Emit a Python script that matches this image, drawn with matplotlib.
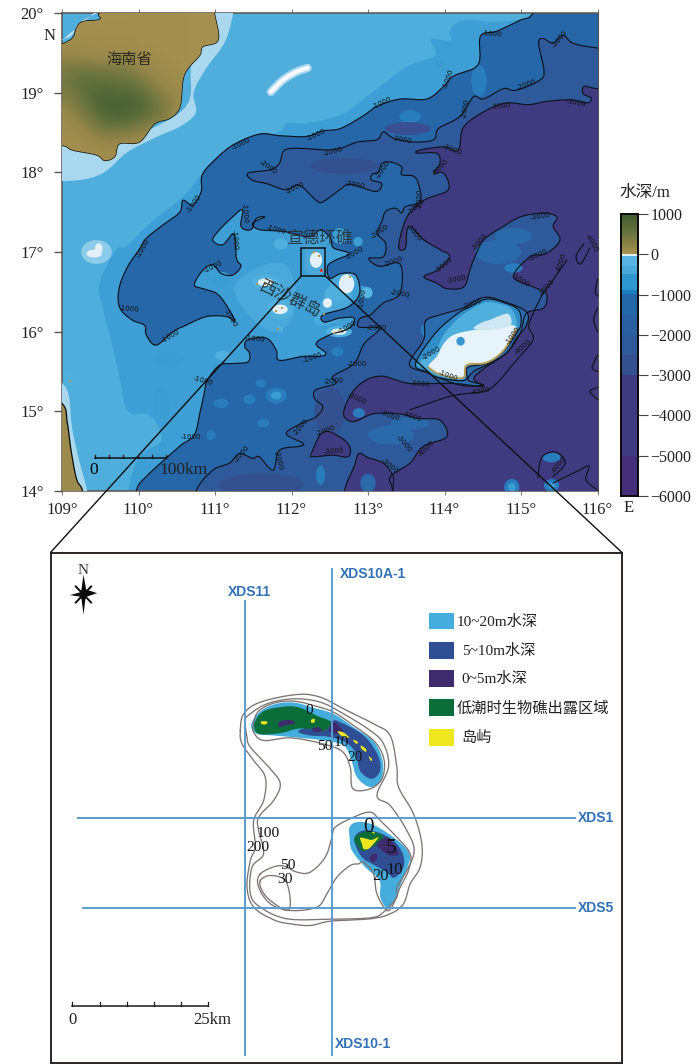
import numpy as np
import matplotlib
matplotlib.use('Agg')
import matplotlib.pyplot as plt
from matplotlib.patches import Polygon, Ellipse, Rectangle, ConnectionPatch
from matplotlib.colors import LinearSegmentedColormap, ListedColormap, BoundaryNorm

plt.rcParams['font.family'] = ['Liberation Serif', 'Noto Sans CJK SC', 'DejaVu Sans']
plt.rcParams['axes.unicode_minus'] = True

W, H = 700, 1064

# ---------------- depth polygons of the upper map (lon, lat) ----------------
SHELF_BAND = [(115.2,20.5),(115.14,20),(114.72,19.89),(114.25,19.91),(114.07,19.78),(114.08,19.65),(113.82,19.67),(113.88,19.47),
 (113.53,19.34),(113.2,19.11),(112.97,18.94),(112.64,18.72),(112.2,18.62),(111.93,18.62),(111.84,18.51),(111.32,18.38),
 (110.97,18.15),(110.8,17.95),(110.58,17.69),(110.15,17.36),(109.84,17.07),(109.71,17.03),(109.49,16.61),(109.54,16.27),
 (109.64,15.9),(109.75,15.44),(109.86,15.0),(110.15,14.95),(110.3,14.64),(110.01,14.43),(109.86,14),(109.8,13.5),(117,13.2),(117,20.8)]

DEEP_1000 = [(109.9,13.5),(109.97,14),(110.1,14.18),(110.36,14.41),(110.56,14.58),(110.73,14.7),(110.8,14.97),(110.86,15.23),(110.9,15.39),
 (111.06,15.58),(111.23,15.6),(111.43,15.62),(111.45,15.73),(111.39,15.81),(111.43,15.9),(111.67,15.92),(111.8,15.77),
 (111.84,15.64),(112.15,15.69),(112.37,15.69),(112.45,15.73),(112.32,15.85),(112.5,15.96),(112.75,16.04),(112.82,16.17),
 (112.63,16.17),(112.43,16.12),(112.41,16.21),(112.74,16.31),(112.89,16.48),(112.84,16.71),(112.65,16.73),(112.5,16.67),
 (112.47,16.82),(112.58,16.9),(112.76,16.98),(112.55,17.05),(112.52,17.15),(112.47,17.22),(112.38,17.28),(112.27,17.2),
 (112.15,17.2),(111.89,17.26),(111.58,17.28),(111.49,17.36),(111.65,17.44),(111.54,17.42),(111.47,17.28),(111.34,17.32),
 (111.36,17.53),(111.23,17.44),(111.06,17.28),(110.97,17.15),(111.1,17.09),(111.25,17.23),(111.28,16.92),(111.34,16.82),
 (111.23,16.71),(111.08,16.73),(110.97,16.84),(110.84,16.77),(110.73,16.59),(110.84,16.54),(111.02,16.48),(111.15,16.33),
 (111.26,16.13),(111.15,16.19),(110.89,16.19),(110.62,16.08),(110.45,16.0),(110.23,15.83),(110.1,15.96),(110.08,16.08),
 (109.91,16.15),(109.75,16.31),(109.75,16.56),(109.86,16.82),(110.01,17.03),(110.1,17.17),(110.32,17.34),(110.54,17.5),
 (110.58,17.65),(110.71,17.59),(110.82,17.76),(110.83,17.96),(110.97,18.13),(111.23,18.34),(111.58,18.48),(111.84,18.46),
 (112.19,18.45),(112.41,18.52),(112.64,18.55),(112.94,18.71),(113.12,18.83),(113.42,18.92),(113.77,18.92),(113.99,19.08),
 (114.12,19.21),(114.44,19.35),(114.47,19.71),(114.68,19.77),(114.99,19.91),(115.16,20.0),(115.4,20.5),(117,20.8),(117,13.2)]

DEEP_2000 = [(116.6,19.5),(116,19.56),(115.68,19.62),(115.55,19.72),(115.42,19.62),(115.29,19.68),(115.23,19.62),(115.3,19.28),(115.25,19.16),
 (114.94,19.03),(114.77,19.05),(114.51,18.92),(114.38,18.95),(114.2,18.7),(113.92,18.55),(113.86,18.41),(113.6,18.38),
 (113.33,18.43),(113.2,18.51),(113.12,18.41),(112.86,18.38),(112.64,18.3),(112.45,18.28),(112.15,18.3),(111.91,18.28),
 (111.84,18.11),(111.71,18.03),(111.43,17.99),(111.49,17.9),(111.67,17.86),(111.93,17.78),(112.1,17.84),(112.32,17.65),
 (112.41,17.63),(112.63,17.78),(112.77,17.85),(113.1,17.76),(113.18,17.86),(113.05,17.9),(113.05,17.97),(113.14,18.01),
 (113.18,18.11),(113.29,18.13),(113.44,18.07),(113.44,17.97),(113.6,17.95),(113.67,17.82),(113.68,17.63),(113.49,17.57),
 (113.44,17.49),(113.36,17.55),(113.23,17.51),(113.18,17.38),(113.12,17.23),(113.23,17.11),(113.2,16.94),(113.01,16.92),
 (113.15,16.82),(113.42,16.85),(113.42,16.48),(113.2,16.36),(113.03,16.21),(112.9,16.17),(112.88,16.06),(113.15,16.04),
 (112.95,15.85),(112.82,15.6),(112.54,15.44),(112.58,15.35),(112.32,15.27),(112.3,15.16),(112.41,15.06),(112.32,14.93),
 (112.13,14.85),(111.93,14.72),(112.15,14.6),(112.1,14.56),(111.84,14.51),(111.76,14.26),(111.58,14.43),(111.49,14.41),
 (111.32,14.47),(111.19,14.35),(110.97,14.26),(110.75,14),(110.6,13.5),(117,13.2),(117,19.6)]

DEEP_3000_A = [(116.6,19.0),(116,19.05),(115.83,19.08),(115.81,18.99),(115.92,18.93),(115.86,18.87),(115.64,18.91),(115.33,18.89),(115.1,18.85),
 (114.81,18.87),(114.55,18.78),(114.25,18.57),(114.18,18.28),(113.99,18.32),(113.68,18.28),(113.64,18.24),(113.9,18.24),
 (113.94,18.11),(113.86,17.99),(113.99,17.99),(114.05,17.78),(113.73,17.65),(113.51,17.44),(113.4,17.07),(113.49,17.05),
 (113.53,17.32),(113.73,17.15),(113.94,17.03),(114.07,16.94),(113.9,16.77),(113.73,16.69),(113.9,16.61),(114.03,16.54),
 (114.25,16.56),(114.33,16.77),(114.38,16.9),(114.51,17.15),(114.77,17.32),(114.99,17.44),(115.29,17.49),(115.47,17.44),
 (115.42,17.32),(115.51,17.15),(115.33,16.98),(115.12,16.94),(114.9,16.69),(115.16,16.56),(115.33,16.48),(115.3,16.3),
 (115.07,16.23),(114.99,15.98),(114.81,15.73),(114.55,15.56),(114.38,15.41),(114.51,15.31),(114.12,15.35),(113.55,15.35),
 (113.2,15.44),(112.97,15.39),(112.79,15.23),(112.68,14.97),(112.81,14.87),(113.07,14.97),(113.4,14.97),(113.66,14.91),
 (113.94,14.89),(114.03,14.68),(113.72,14.56),(113.55,14.35),(113.29,14.18),(113.32,14),(113.3,13.5),(117,13.2),(117,19.0)]
DEEP_3000_B = [(112.26,14.47),(112.41,14.74),(112.63,14.68),(112.76,14.56),(112.74,14.43),(112.54,14.45),(112.28,14.43)]
DEEP_3000_C = [(112.6,13.5),(112.69,14),(112.82,14.31),(112.88,14.47),(113.0,14.42),(113.2,14.35),(113.33,14.18),(113.33,14),(113.4,13.5)]

LINE_4000 = [(113.55,15.02),(113.73,15.08),(114.12,15.2),(114.51,15.25),(114.68,15.35),(114.94,15.64),(115.16,15.9),(115.1,16.06),
 (115.16,16.23),(115.29,16.48),(115.42,16.65),(115.6,16.9)]
LINE_EXTRA = [[(115.22,14.17),(115.27,14.42),(115.45,14.49),(115.58,14.35),(115.42,14.18)],
 [(115.42,14.1),(115.76,14.26),(115.89,14.31),(115.85,14.14),(116,14.01)],
 [(116,16.66),(115.97,16.5),(116,16.45)],[(116,16.3),(115.95,16.15),(116,16.0)],
 [(116,15.7),(115.93,15.55),(116,15.5)],[(116,15.3),(115.9,15.25),(116,15.15)],
 [(115.82,17.1),(115.72,16.95),(115.78,16.85),(115.9,17.05)]]

BANK_RING_2000 = [(113.54,15.59),(113.73,15.9),(113.75,16.13),(113.94,16.21),(114.25,16.3),(114.51,16.43),(114.77,16.38),(115.07,16.25),
 (115.07,16.08),(114.94,15.92),(114.81,15.73),(114.55,15.58),(114.38,15.5),(114.31,15.39),(114.51,15.33),(114.2,15.33),(113.79,15.48)]
BANK_RING_1000 = [(113.62,15.6),(113.88,15.98),(114.16,16.22),(114.33,16.31),(114.55,16.41),(114.79,16.36),(114.97,16.27),(115.0,16.1),
 (114.94,15.98),(114.77,15.75),(114.55,15.6),(114.3,15.55),(114.27,15.39),(113.94,15.42),(113.75,15.5)]
BANK_BLUE = [(113.65,15.6),(113.73,15.54),(113.94,15.44),(114.25,15.41),(114.29,15.58),(114.55,15.62),(114.77,15.77),(114.94,16.04),
 (114.9,16.25),(114.79,16.33),(114.55,16.37),(114.33,16.27),(114.16,16.15),(113.99,15.96),(113.88,15.77)]
BANK_WHITE = [(113.79,15.56),(113.94,15.47),(114.25,15.42),(114.29,15.58),(114.55,15.62),(114.77,15.77),(114.94,16.04),(114.81,16.08),
 (114.64,16.04),(114.38,16.02),(114.12,15.96),(113.99,15.85),(113.9,15.69)]
BANK_CLOUD = [(114.38,16.04),(114.5,16.12),(114.6,16.15),(114.72,16.2),(114.84,16.22),(114.86,16.08),(114.6,16.02)]
BANK_COAST = [(113.79,15.55),(113.95,15.46),(114.24,15.42),(114.29,15.58),(114.55,15.61),(114.77,15.76),(114.94,16.03)]
PARACEL_LIGHT = [[(111.25,16.55),(111.55,16.8),(111.9,16.85),(112.05,16.55),(112.0,16.15),(111.75,16.0),(111.45,16.2)],
 [(112.3,16.1),(112.45,16.5),(112.7,16.85),(112.85,16.7),(112.75,16.35),(112.65,16.15)],
 [(112.2,16.75),(112.2,17.05),(112.42,17.05),(112.42,16.75)]]

# Hainan and mainland coast
LAND = [(108.5,19.4),(109.03,19.62),(109.15,19.7),(109.19,19.81),(109.27,19.89),(109.5,19.92),(109.6,20.05),(110.9,20.4),(110.99,20),
 (111.04,19.66),(110.84,19.58),(110.8,19.47),(110.65,19.31),(110.58,19.16),(110.54,18.82),
 (110.41,18.68),(110.21,18.61),(110.01,18.38),(109.75,18.36),(109.69,18.2),(109.56,18.15),(109.45,18.22),(109.14,18.28),(109,18.34),(108.5,18.4)]
LAND_SW = [(108.6,15.3),(109,15.1),(109.07,14.85),(109.12,14.5),(109.19,14.15),(109.27,14),(109.35,13.6),(108.5,13.6)]
COAST_HALO = [(111.25,20.2),(111.15,19.68),(110.88,19.3),(110.72,19.0),(110.75,18.75),(110.55,18.58),(110.25,18.45),(109.85,18.25),(109.55,18.0),
 (109.2,17.9),(108.8,17.95),(108.8,18.4),(109.7,18.4),(110.6,18.8),(110.7,19.4),(111.0,20.0)]
COAST_NW = [(108.8,19.5),(109.55,20.1),(109.7,20.1),(109.35,19.95),(109.2,19.85),(109.1,19.7),(108.8,19.62)]
SW_HALO = [(108.7,15.35),(109.05,15.3),(109.13,14.8),(109.22,14.4),(109.33,14),(109.4,13.6),(108.7,13.6)]
WHITE_REEF = [(111.73,19.01),(111.89,19.16),(112.06,19.26),(112.21,19.31)]

# Hainan relief, metres, on a 0.25 degree grid
ELEV_LON = [109, 109.25, 109.5, 109.75, 110, 110.25, 110.5, 110.75, 111]
ELEV_LAT = [20, 19.75, 19.5, 19.25, 19, 18.75, 18.5, 18.25]
ELEV = [[60,60,80,80,80,80,60,50,30],
        [100,60,80,100,80,60,60,50,30],
        [250,200,120,150,120,80,60,40,30],
        [500,700,550,600,400,200,120,50,30],
        [500,650,800,700,750,400,300,60,20],
        [200,500,800,900,800,700,300,20,0],
        [120,200,500,500,400,200,60,0,0],
        [60,60,100,100,60,0,0,0,0]]

# shoals: lon, lat, half width, half height, colour class
SHOALS = [
 (111.6,14.08,0.55,0.14,'basin'),(112.7,18.08,0.45,0.1,'basin'),(112.5,15.0,0.2,0.3,'basin'),
 (109.45,17.0,0.2,0.15,'halo'),(109.42,16.98,0.1,0.05,'white'),(109.48,17.04,0.05,0.07,'white'),(109.1,15.37,0.06,0.13,'pale'),
 (111.66,16.62,0.18,0.1,'pale'),(111.66,16.62,0.1,0.05,'white'),
 (111.85,16.28,0.17,0.13,'pale'),(111.85,16.28,0.1,0.06,'white'),(111.85,16.03,0.04,0.04,'pale'),
 (112.6,16.48,0.17,0.1,'pale'),(112.72,16.6,0.1,0.12,'white'),(112.47,16.36,0.06,0.06,'white'),
 (112.62,16.0,0.17,0.07,'pale'),(112.62,16.0,0.1,0.04,'white'),
 (112.32,16.9,0.08,0.1,'white'),(112.9,16.5,0.1,0.08,'sea'),(112.99,16.49,0.07,0.07,'bright'),
 (112.63,17.2,0.1,0.1,'sea'),(112.87,17.13,0.06,0.06,'sea'),
 (111.86,17.1,0.09,0.07,'pale'),(111.09,16.65,0.12,0.1,'sea'),(110.4,15.65,0.2,0.1,'sea'),(110.3,15.1,0.1,0.2,'sea'),
 (112.88,14.98,0.08,0.06,'mid'),(111.8,15.2,0.14,0.1,'mid'),(111.8,15.2,0.07,0.05,'sea'),(111.08,15.1,0.1,0.06,'mid'),
 (111.45,15.15,0.08,0.06,'mid'),(111.6,15.35,0.07,0.05,'mid'),(111.63,14.85,0.08,0.05,'mid'),(110.95,14.7,0.06,0.06,'mid'),
 (112.38,14.2,0.06,0.12,'mid'),(112.6,15.75,0.08,0.06,'mid'),(111.1,15.7,0.1,0.06,'pale'),
 (113.55,18.7,0.14,0.08,'mid'),(114.45,19.15,0.1,0.2,'mid'),(113.95,19.35,0.06,0.07,'sea'),(114.0,19.6,0.06,0.05,'sea'),
 (113.52,18.55,0.3,0.08,'mid2'),(114.0,16.05,0.12,0.12,'mid'),(113.85,15.98,0.1,0.1,'mid'),(113.75,16.02,0.06,0.08,'mid'),
 (114.9,16.8,0.12,0.06,'mid'),(115.4,14.42,0.12,0.06,'mid'),(114.88,14.05,0.1,0.1,'mid'),(114.88,14.05,0.05,0.05,'sea'),
 (115.4,14.07,0.1,0.08,'mid'),(115.4,14.07,0.05,0.04,'sea'),(113.0,14.1,0.1,0.12,'mid3'),
 (113.55,14.85,0.25,0.08,'mid3'),(114.7,17.0,0.3,0.15,'mid3'),(114.9,17.2,0.25,0.1,'mid3'),(113.3,14.7,0.3,0.12,'mid3')]
SHOAL_COLORS = {'pale':'#4fb0de','white':'#e2f1f9','halo':'#8ccbe9','sea':'#3a9dd4','bright':'#55b5e2','mid':'#2a7dbc','mid2':'#3a4f92','mid3':'#2a6aab','basin':'#35508f'}

# brown islets
ISLET_LON = [111.55,111.65,111.75,111.88,111.8,112.77,112.42,112.55,112.62,112.3,112.36,109.1,111.82]
ISLET_LAT = [16.6,16.6,16.62,16.3,16.26,16.68,16.22,15.98,16.01,17.0,16.95,15.38,16.03]

# contour labels: lon, lat, value, rotation
CONTOUR_LABELS = [
 (111.34,18.36,-1000,25),(112.32,18.47,-1000,25),(110.73,17.61,-1000,55),(111.39,17.49,-1000,-85),(111.8,17.28,-1000,-15),
 (111.26,17.15,-1000,-85),(110.06,17.05,-1000,60),(113.18,18.87,-1000,25),(114.05,19.18,-1000,70),(114.62,19.74,-1000,-5),
 (110.98,16.81,-1000,25),(109.87,16.28,-1000,-5),(110.42,15.95,-1000,30),(111.2,16.17,-1000,-60),(110.85,15.38,-1000,-15),
 (111.52,15.91,-1000,-5),(110.69,14.68,-1000,0),(112.27,15.68,-1000,20),(112.82,16.98,-1000,30),(112.93,16.42,-1000,80),(112.73,16.06,-1000,30),
 (112.54,18.26,-2000,15),(111.69,18.07,-2000,-35),(112.04,17.81,-2000,25),(112.83,17.84,-2000,-10),(113.44,18.41,-2000,-10),
 (114.27,18.8,-2000,80),(115.07,19.1,-2000,20),(115.51,19.68,-2000,50),(113.2,18.03,-2000,55),(113.16,17.26,-2000,35),
 (113.68,17.67,-2000,90),(113.34,16.88,-2000,20),(113.42,16.48,-2000,-10),(113.12,16.04,-2000,0),(112.85,15.6,-2000,0),
 (112.55,15.38,-2000,5),(112.12,14.8,-2000,50),(112.45,14.76,-2000,20),(111.35,14.46,-2000,50),(111.82,14.38,-2000,-75),
 (113.83,15.73,-2000,30),(114.37,16.35,-2000,20),
 (114.73,18.83,-3000,5),(115.72,18.87,-3000,-10),(114.1,18.28,-3000,-20),(113.95,18.06,-3000,45),(113.63,17.57,-3000,40),
 (113.6,17.25,-3000,-50),(115.25,17.45,-3000,10),(114.46,17.13,-3000,50),(115.23,16.96,-3000,25),(114.16,16.66,-3000,10),
 (113.99,16.84,-3000,40),(114.99,16.64,-3000,-30),(113.68,15.35,-3000,-5),(112.85,15.16,-3000,-25),(113.29,14.95,-3000,-20),
 (113.47,14.6,-3000,-50),(113.28,14.31,-3000,-40),(112.55,14.5,-3000,5),
 (115.33,16.55,-4000,50),(115.53,16.86,-4000,70),(114.47,15.25,-4000,10),(115.03,15.81,-4000,40),(113.57,14.93,-4000,-20),
 (113.76,14.54,-4000,45),(115.49,14.33,-4000,50),(115.92,17.11,-4000,-60),(114.05,15.45,-1000,-20),(114.9,15.95,-1000,55)]

# colour bar classes
CB_LEVELS = [-6000,-5000,-3000,-2500,-2000,-1500,-1000,-900,-500,-300,-40,0]
CB_COLORS = ['#462f7a','#403a80','#35508f','#2e5a9b','#2a60a2','#2467a8','#1c7fbe','#2f97cf','#4aa8da','#58b4e3','#dff0f8']
CB_TICKS = [1000,0,-1000,-2000,-3000,-4000,-5000,-6000]
LAND_CMAP_COLORS = ['#a89250','#96874a','#6b7440','#3c5a30']

LON_TICKS = [109,110,111,112,113,114,115,116]
LAT_TICKS = [14,15,16,17,18,19,20]
BOX_LON = (112.13,112.44)
BOX_LAT = (16.70,17.05)

# ---------------- lower reef map, survey-sheet grid units ----------------
C200 = [(30,150),(40,100),(90,65),(200,42),(270,50),(340,85),(430,130),(480,165),(500,260),(505,320),(550,400),(575,490),(570,560),
 (540,610),(520,670),(480,700),(420,715),(300,722),(240,735),(180,730),(130,718),(70,680),(50,620),(60,540),(75,500),(70,420),
 (100,360),(105,290),(70,240),(35,190)]
C100 = [(45,130),(50,108),(110,70),(190,55),(270,65),(340,100),(420,150),(460,190),(475,260),(440,345),(480,375),(530,450),(552,510),
 (530,570),(500,620),(500,650),(460,695),(420,712),(300,716),(170,715),(90,680),(60,640),(65,560),(100,520),(85,450),(85,410),
 (130,360),(150,310),(120,265),(60,200),(50,170)]
C50A = [(70,125),(70,155),(100,180),(180,172),(270,188),(335,212),(360,260),(368,325),(420,325),(455,295),(462,240),(435,185),(370,135),
 (310,95),(250,75),(190,62),(130,68),(85,92)]
C50B = [(90,580),(150,555),(200,575),(240,575),(285,530),(305,470),(315,440),(370,410),(420,395),(450,420),(500,470),(540,520),(535,570),
 (510,620),(490,670),(470,690),(440,640),(430,580),(400,545),(385,550),(360,555),(320,590),(290,640),(260,680),(180,690),(120,670),(85,620)]
C30 = [(90,600),(120,585),(165,600),(180,660),(170,690),(120,660),(95,630)]

N_CYAN = [(62,135),(85,97),(130,72),(190,66),(250,82),(310,100),(370,140),(432,185),(458,245),(452,298),(420,320),(380,290),(362,235),
 (340,195),(280,180),(210,172),(130,165),(80,160)]
N_BLUE = [(205,150),(300,122),(330,125),(400,165),(442,222),(450,270),(425,295),(390,272),(375,215),(340,182),(290,168),(240,165)]
N_GREEN = [(72,130),(100,92),(165,78),(210,82),(258,105),(302,125),(280,152),(240,145),(200,145),(150,158),(85,160)]
N_PURPLE = [[(145,125),(175,118),(195,128),(165,135),(148,140)],[(245,145),(265,140),(275,150),(255,155)],
            [(295,150),(310,125),(325,135),(345,165),(320,160)]]
N_YELLOW = [[(92,123),(110,123),(108,131),(95,131)],[(243,118),(253,115),(252,126),(243,126)],[(322,153),(340,156),(357,172),(335,167)],
            [(368,178),(383,184),(378,190)],[(392,195),(407,205),(407,214),(394,205)],[(415,228),(425,235),(423,242)]]
S_CYAN = [(358,440),(380,425),(430,433),(500,478),(538,520),(532,560),(512,610),(492,660),(470,682),(450,650),(448,600),(405,560),
 (365,510),(358,470)]
S_BLUE = [(373,470),(400,450),(450,458),(492,483),(518,520),(520,560),(492,592),(470,575),(425,550),(400,535),(380,505)]
S_GREEN = [(372,475),(390,458),(420,453),(458,465),(450,487),(420,502),(400,512),(385,500)]
S_PURPLE = [[(440,490),(470,470),(490,490),(505,520),(480,525),(455,510)],[(418,530),(435,518),(442,530),(430,545),(422,540)]]
S_YELLOW = [[(390,472),(410,475),(425,478),(445,470),(430,490),(415,505),(400,505),(395,490)],[(425,455),(432,455),(433,460)]]

REEF_LABELS = [(238,90,'0',13),(285,198,'50',13),(335,185,'10',13),(375,230,'20',13),(115,458,'100',13),(83,500,'200',13),
 (172,555,'50',13),(165,597,'30',13),(415,440,'0',18),(482,505,'5',18),(495,567,'10',14),(450,585,'20',14)]
SECTION_H = [(412,'XDS1'),(683,'XDS5')]
LEGEND_NAMES = ['10~20m水深','5~10m水深','0~5m水深','低潮时生物礁出露区域','岛屿']
LEGEND_COLORS = ['#44addd','#2f4e94','#3e2b6e','#0b6e3a','#eee61f']
STAR = [(-441,-318),(-433,-273),(-400,-262),(-430,-252),(-435,-245),(-441,-198),(-447,-245),(-453,-252),(-482,-256),(-450,-265),(-447,-273)]
STAR_DIAG = [(-418,-282),(-464,-234),(-418,-234),(-464,-282)]


def smooth(pts, closed=True, n=6):
    """Catmull-Rom curve through the traced outline points."""
    p = np.asarray(pts, float)
    if closed:
        idx = np.arange(len(p))
        p0, p1, p2, p3 = p[(idx - 1) % len(p)], p, p[(idx + 1) % len(p)], p[(idx + 2) % len(p)]
    else:
        q = np.vstack([p[0], p, p[-1]])
        p0, p1, p2, p3 = q[:-3], q[1:-2], q[2:-1], q[3:]
    t = np.linspace(0, 1, n, endpoint=False)[None, :, None]
    a, b, c, d = p0[:, None, :], p1[:, None, :], p2[:, None, :], p3[:, None, :]
    out = 0.5 * (2 * b + (c - a) * t + (2 * a - 5 * b + 4 * c - d) * t ** 2 + (3 * b - a - 3 * c + d) * t ** 3)
    out = out.reshape(-1, 2)
    if not closed:
        out = np.vstack([out, p[-1]])
    return out


def poly(ax, pts, fc, z, ec='none', lw=0, **kw):
    pa = Polygon(smooth(pts), closed=True, fc=fc, ec=ec, lw=lw, zorder=z, **kw)
    ax.add_patch(pa)
    return pa


fig = plt.figure(figsize=(W / 100, H / 100), dpi=100)
ax = fig.add_axes([62 / W, 1 - 491 / H, 535.5 / W, 478 / H])
ax.set_xlim(109, 116)
ax.set_ylim(14, 20)
ax.set_facecolor('#50aedd')

poly(ax, SHELF_BAND, '#3d9fd5', 1)
for p in PARACEL_LIGHT:
    poly(ax, p, '#4aa9da', 1.2)
poly(ax, DEEP_1000, '#2567a8', 2)
poly(ax, DEEP_2000, '#2e5a9b', 3)

for lon, lat, rx, ry, tone in SHOALS:
    ax.add_patch(Ellipse((lon, lat), 2 * rx, 2 * ry, fc=SHOAL_COLORS[tone], ec='none', zorder=3.5 if tone == 'basin' else 5))

poly(ax, DEEP_3000_A, '#403a80', 4)
poly(ax, DEEP_3000_B, '#403a80', 4)
poly(ax, DEEP_3000_C, '#403a80', 4)

# contour lines
for pts in (DEEP_1000, DEEP_2000, DEEP_3000_A, DEEP_3000_B, DEEP_3000_C):
    xy = smooth(pts)
    ax.plot(xy[:, 0], xy[:, 1], color='#10141e', lw=0.85, zorder=8)
for pts in [LINE_4000] + LINE_EXTRA:
    xy = smooth(pts, closed=False)
    ax.plot(xy[:, 0], xy[:, 1], color='#10141e', lw=0.85, zorder=8)

# the large bank
poly(ax, BANK_RING_2000, '#2a6cae', 6, ec='#10141e', lw=0.85)
poly(ax, BANK_RING_1000, '#2f8ec9', 6.5, ec='#10141e', lw=0.85)
poly(ax, BANK_BLUE, '#4fb0de', 8.2)
poly(ax, BANK_WHITE, '#e6f3fa', 8.3)
poly(ax, BANK_CLOUD, '#cfe6f3', 8.4)
xy = smooth(BANK_COAST, closed=False)
ax.plot(xy[:, 0], xy[:, 1], color='#b69a52', lw=1.3, zorder=8.5)
ax.add_patch(Ellipse((114.21, 15.88), 0.11, 0.11, fc='#3796cf', ec='none', zorder=8.6))

# reef and coast
poly(ax, COAST_HALO, '#a9d8ee', 5.5)
poly(ax, COAST_NW, '#c3e4f3', 5.5)
poly(ax, SW_HALO, '#a9d8ee', 5.5)
xy = smooth(WHITE_REEF, closed=False)
ax.plot(xy[:, 0], xy[:, 1], color='#a8d8ef', lw=6, solid_capstyle='round', zorder=5.5)
ax.plot(xy[:, 0], xy[:, 1], color='#f4fafd', lw=3.2, solid_capstyle='round', zorder=5.6)

land_patch = poly(ax, LAND, '#a08c4c', 9, ec='#0b0b0b', lw=1.0)
cmap_land = LinearSegmentedColormap.from_list('land', LAND_CMAP_COLORS)
im = ax.imshow(np.array(ELEV), extent=(108.875, 111.125, 18.125, 20.125), origin='upper', cmap=cmap_land, vmin=0, vmax=900,
               interpolation='bicubic', aspect='auto', zorder=9.5)
im.set_clip_path(land_patch)
poly(ax, LAND_SW, '#9a8a4c', 9, ec='#0b0b0b', lw=0.9)

ax.scatter(ISLET_LON, ISLET_LAT, s=4, c='#b69a52', marker='s', linewidths=0, zorder=10)
ax.scatter([112.38], [16.78], s=5, c='#e0302a', marker='o', linewidths=0, zorder=10)
ax.set_xlim(109, 116)
ax.set_ylim(14, 20)

for lon, lat, val, rot in CONTOUR_LABELS:
    ax.text(lon, lat, f'{val}', fontsize=5, rotation=rot, ha='center', va='center', color='#101010',
            family=['DejaVu Sans'], zorder=11, rotation_mode='anchor')

ax.add_patch(Rectangle((BOX_LON[0], BOX_LAT[0]), BOX_LON[1] - BOX_LON[0], BOX_LAT[1] - BOX_LAT[0], fc='none', ec='#101010', lw=1.1, zorder=12))

ax.text(109.88, 19.41, '海南省', fontsize=11, ha='center', va='center', color='#2a2a1c', zorder=12)
ax.text(112.38, 17.17, '宣德环礁', fontsize=12, ha='center', va='center', color='#2b2b2b', alpha=0.85, zorder=12)
ax.text(111.97, 16.41, '西沙群岛', fontsize=12, rotation=-25, ha='center', va='center', color='#222222', alpha=0.85, zorder=12)

# scale bar of the upper map
ax.plot([109.43, 110.36], [14.42, 14.42], color='#101010', lw=1.1, zorder=12)
for t in np.linspace(109.43, 110.36, 6):
    ax.plot([t, t], [14.42, 14.45], color='#101010', lw=0.9, zorder=12)
ax.text(109.42, 14.26, '0', fontsize=12.5, ha='center', va='center', zorder=12)
ax.text(110.28, 14.26, '100km', fontsize=12.5, ha='left', va='center', zorder=12, color='#222222')

ax.set_xticks(LON_TICKS)
ax.set_xticklabels([f'{v}°' for v in LON_TICKS], fontsize=12, color='#222222')
ax.set_yticks(LAT_TICKS)
ax.set_yticklabels([f'{v}°' for v in LAT_TICKS], fontsize=12, color='#222222')
ax.tick_params(axis='x', length=3, width=0.7, color='#777777', pad=5, top=True)
ax.tick_params(axis='y', length=6, width=1.0, color='#555555', pad=7)
for s in ax.spines.values():
    s.set_color('#5a5250')
    s.set_linewidth(1.1)
ax.spines['right'].set_linewidth(0.8)
fig.text(50 / W, 1 - 36 / H, 'N', fontsize=12, ha='center', va='center', color='#222222')
fig.text(629 / W, 1 - 508 / H, 'E', fontsize=12, ha='center', va='center', color='#222222')

# colour bar
cax = fig.add_axes([621 / W, 1 - 496 / H, 17 / W, 282 / H])
cmap_depth = ListedColormap(CB_COLORS)
norm = BoundaryNorm(CB_LEVELS, cmap_depth.N)
yy = np.linspace(-5995, -5, 600).reshape(-1, 1)
cax.imshow(yy, extent=(0, 1, -6000, 0), origin='lower', cmap=cmap_depth, norm=norm, aspect='auto', interpolation='nearest')
gr = np.linspace(0, 1000, 50).reshape(-1, 1)
cax.imshow(gr, extent=(0, 1, 0, 1000), origin='lower', cmap=LinearSegmentedColormap.from_list('l', ['#a89250', '#6b7440', '#3c5a30']),
           aspect='auto')
cax.set_xlim(0, 1)
cax.set_ylim(-6000, 1000)
cax.set_xticks([])
cax.yaxis.tick_right()
cax.set_yticks(CB_TICKS)
cax.set_yticklabels([f'{v}'.replace('-', '−') for v in CB_TICKS], fontsize=11.5, color='#222222')
cax.tick_params(axis='y', length=7, width=0.8, color='#444444', pad=2)
for s in cax.spines.values():
    s.set_color('#0a0a0a')
    s.set_linewidth(1.4)
fig.text(619 / W, 1 - 193 / H, '水深/m', fontsize=12, ha='left', va='center', color='#222222')

# ---------------- lower panel ----------------
bx = fig.add_axes([50.5 / W, 1 - 1062.5 / H, 571.5 / W, 510 / H])
bx.set_xlim(-540, 1176)
bx.set_ylim(1146, -384)
bx.set_xticks([])
bx.set_yticks([])
for s in bx.spines.values():
    s.set_color('#2c2624')
    s.set_linewidth(1.4)

poly(bx, N_CYAN, LEGEND_COLORS[0], 2)
poly(bx, S_CYAN, LEGEND_COLORS[0], 2)
poly(bx, N_BLUE, LEGEND_COLORS[1], 3)
poly(bx, S_BLUE, LEGEND_COLORS[1], 3)
poly(bx, N_GREEN, LEGEND_COLORS[3], 4)
poly(bx, S_GREEN, LEGEND_COLORS[3], 4)
for p in N_PURPLE + S_PURPLE:
    poly(bx, p, LEGEND_COLORS[2], 5)
for p in N_YELLOW + S_YELLOW:
    poly(bx, p, LEGEND_COLORS[4], 6)

for pts in (C200, C100, C50A, C50B, C30):
    xy = smooth(pts)
    xy = np.vstack([xy, xy[0]])
    bx.plot(xy[:, 0], xy[:, 1], color='#7d7573', lw=0.95, zorder=7)

SEC_COLOR = '#5a9ccf'
TXT_COLOR = '#1c62ad'
bx.plot([45, 45], [-240, 1122], color=SEC_COLOR, lw=1.4, zorder=8)
bx.plot([305, 305], [-336, 1122], color=SEC_COLOR, lw=1.4, zorder=8)
bx.plot([-456, 1035], [412, 412], color=SEC_COLOR, lw=1.4, zorder=8)
bx.plot([-441, 1035], [683, 683], color=SEC_COLOR, lw=1.4, zorder=8)
sans = ['Liberation Sans']
bx.text(-6, -264, 'XDS11', fontsize=10, color=TXT_COLOR, family=sans, ha='left', va='center', weight='bold', zorder=9, alpha=0.9)
bx.text(330, -321, 'XDS10A-1', fontsize=10, color=TXT_COLOR, family=sans, ha='left', va='center', weight='bold', zorder=9, alpha=0.9)
bx.text(315, 1089, 'XDS10-1', fontsize=10, color=TXT_COLOR, family=sans, ha='left', va='center', weight='bold', zorder=9, alpha=0.9)
for y, name in SECTION_H:
    bx.text(1044, y, name, fontsize=10, color=TXT_COLOR, family=sans, ha='left', va='center', weight='bold', zorder=9, alpha=0.9)

for x, y, t, fs in REEF_LABELS:
    bx.text(x, y, t, fontsize=fs * 0.85, ha='center', va='center', color='#111111', zorder=10)

# legend
ly = [(612, 628), (641, 658), (669, 686), (698, 715), (728, 745)]
lt = [457, 462, 461, 457, 461]
for (y0, y1), tx, name, col in zip(ly, lt, LEGEND_NAMES, LEGEND_COLORS):
    bx.add_patch(Rectangle(((429 - 230) * 3, (y0 - 680) * 3), 75, (y1 - y0) * 3, fc=col, ec='none', zorder=9))
    bx.text((tx - 230) * 3, ((y0 + y1) / 2 - 680) * 3 + 3, name, fontsize=11, ha='left', va='center', color='#222222', zorder=9)

# compass
bx.add_patch(Polygon(STAR, closed=True, fc='#0a0a0a', ec='none', zorder=9))
for x, y in STAR_DIAG:
    bx.plot([-441, x], [-258, y], color='#0a0a0a', lw=1.4, zorder=9)
bx.text(-441, -330, 'N', fontsize=11, ha='center', va='center', color='#333333', zorder=9)

# scale bar of the lower panel
sx0, sx1 = (72 - 230) * 3, (208 - 230) * 3
sy = (1005 - 680) * 3
bx.plot([sx0, sx1], [sy, sy], color='#1a1a1a', lw=1.1, zorder=9)
for t in np.linspace(sx0, sx1, 6):
    bx.plot([t, t], [sy, sy - 12], color='#1a1a1a', lw=0.9, zorder=9)
bx.text(sx0, sy + 45, '0', fontsize=12, ha='center', va='center', color='#222222', zorder=9)
bx.text(sx1 - 45, sy + 45, '25km', fontsize=12, ha='left', va='center', color='#222222', zorder=9)

# leader lines from the box to the lower panel corners
for lon, bxx in ((BOX_LON[0], -540), (BOX_LON[1], 1176)):
    con = ConnectionPatch(xyA=(lon, BOX_LAT[0]), coordsA=ax.transData, xyB=(bxx, -384), coordsB=bx.transData,
                          color='#101010', lw=1.0, zorder=20)
    fig.add_artist(con)

fig.savefig('out.png', dpi=100)
